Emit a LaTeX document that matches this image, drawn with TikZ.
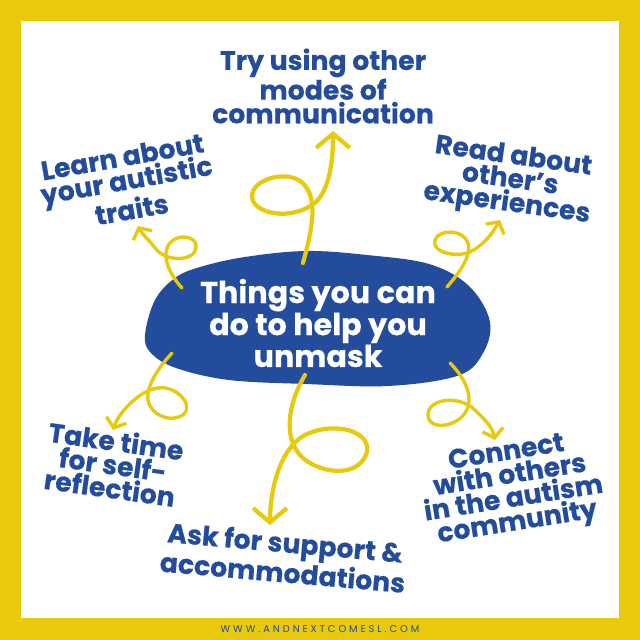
\documentclass[tikz,border=0pt]{standalone}
\usepackage{fontspec}
\setmainfont{Poppins}
\usetikzlibrary{arrows.meta}
\definecolor{brandblue}{HTML}{234C9C}
\definecolor{brandyellow}{HTML}{E8C90B}

\begin{document}
\begin{tikzpicture}[x=0.025cm,y=-0.025cm,
    topic/.style={text=brandblue,font=\fontsize{19}{16.8}\selectfont\bfseries\addfontfeature{FakeBold=0.4},align=center,inner sep=0pt},
    curly/.style={draw=brandyellow,line width=2.4pt,line cap=round,-{Straight Barb[length=6pt,width=15pt]}},
    bigcurly/.style={curly,line width=3pt,-{Straight Barb[length=10pt,width=24pt]}}]

    % frame
    \fill[brandyellow] (0,0) rectangle (640,640);
    \fill[white] (21,21) rectangle (619,618);
    \node[text=brandblue,font=\fontsize{7}{8}\selectfont\addfontfeature{LetterSpace=30}] (site) at (320,629) {WWW.ANDNEXTCOMESL.COM};

    % blob in the middle
    \fill[brandblue] plot[smooth cycle,tension=0.6] coordinates {
        (145,335) (155,300) (175,278) (200,267) (245,257) (306,251) (367,255)
        (429,264) (469,286) (490,322) (482,355) (457,376) (388,386) (306,384)
        (229,380) (176,368) (151,353)};
    \node[text=white,font=\fontsize{21.5}{18}\selectfont\bfseries\addfontfeature{FakeBold=0.4},align=center,inner sep=0pt] (hub) at (318,323)
        {Things you can\\do to help you\\unmask};

    % arrow ends
    \coordinate (s1) at (303,263); \coordinate (e1) at (333,131);
    \coordinate (s2) at (182,288); \coordinate (e2) at (138,226);
    \coordinate (s3) at (447,287); \coordinate (e3) at (500,220);
    \coordinate (s4) at (172,353); \coordinate (e4) at (113,430);
    \coordinate (s5) at (305,375); \coordinate (e5) at (270,525);
    \coordinate (s6) at (450,363); \coordinate (e6) at (495,440);

    % curly arrows
    \draw[bigcurly] (s1) .. controls (312,230) and (320,195) .. (300,181)
        .. controls (284,170) and (252,180) .. (252,196)
        .. controls (252,214) and (292,222) .. (316,202)
        .. controls (330,188) and (333,160) .. (e1);
    \draw[curly] (s2) .. controls (170,275) and (160,255) .. (170,243)
        .. controls (178,233) and (198,236) .. (196,248)
        .. controls (194,262) and (165,262) .. (155,248)
        .. controls (150,241) and (142,234) .. (e2);
    \draw[curly] (s3) .. controls (460,272) and (472,255) .. (468,243)
        .. controls (464,230) and (440,228) .. (435,240)
        .. controls (431,252) and (455,258) .. (470,252)
        .. controls (482,246) and (491,236) .. (e3);
    \draw[curly] (s4) .. controls (160,366) and (146,385) .. (148,400)
        .. controls (150,415) and (172,424) .. (184,414)
        .. controls (194,404) and (175,385) .. (158,388)
        .. controls (140,390) and (119,412) .. (e4);
    \draw[bigcurly] (s5) .. controls (290,400) and (282,435) .. (300,455)
        .. controls (315,472) and (355,480) .. (366,455)
        .. controls (375,432) and (335,420) .. (305,435)
        .. controls (280,448) and (270,490) .. (e5);
    \draw[curly] (s6) .. controls (465,378) and (475,398) .. (465,413)
        .. controls (455,428) and (428,430) .. (428,415)
        .. controls (428,398) and (460,395) .. (475,410)
        .. controls (485,420) and (492,426) .. (e6);

    % labels
    \node[topic] (modes) at (323,86) {Try using other\\modes of\\communication};
    \node[topic,rotate=10] (traits) at (127,183) {Learn about\\your autistic\\traits};
    \node[topic,rotate=-8] (others) at (510,181) {Read about\\other’s\\experiences};
    \node[topic,rotate=-8] (reflect) at (113,464) {Take time\\for self-\\reflection};
    \node[topic,rotate=-5] (support) at (284,557) {Ask for support \&\\accommodations};
    \node[topic,rotate=9] (community) at (512,489) {Connect\\with others\\in the autism\\community};
\end{tikzpicture}
\end{document}
